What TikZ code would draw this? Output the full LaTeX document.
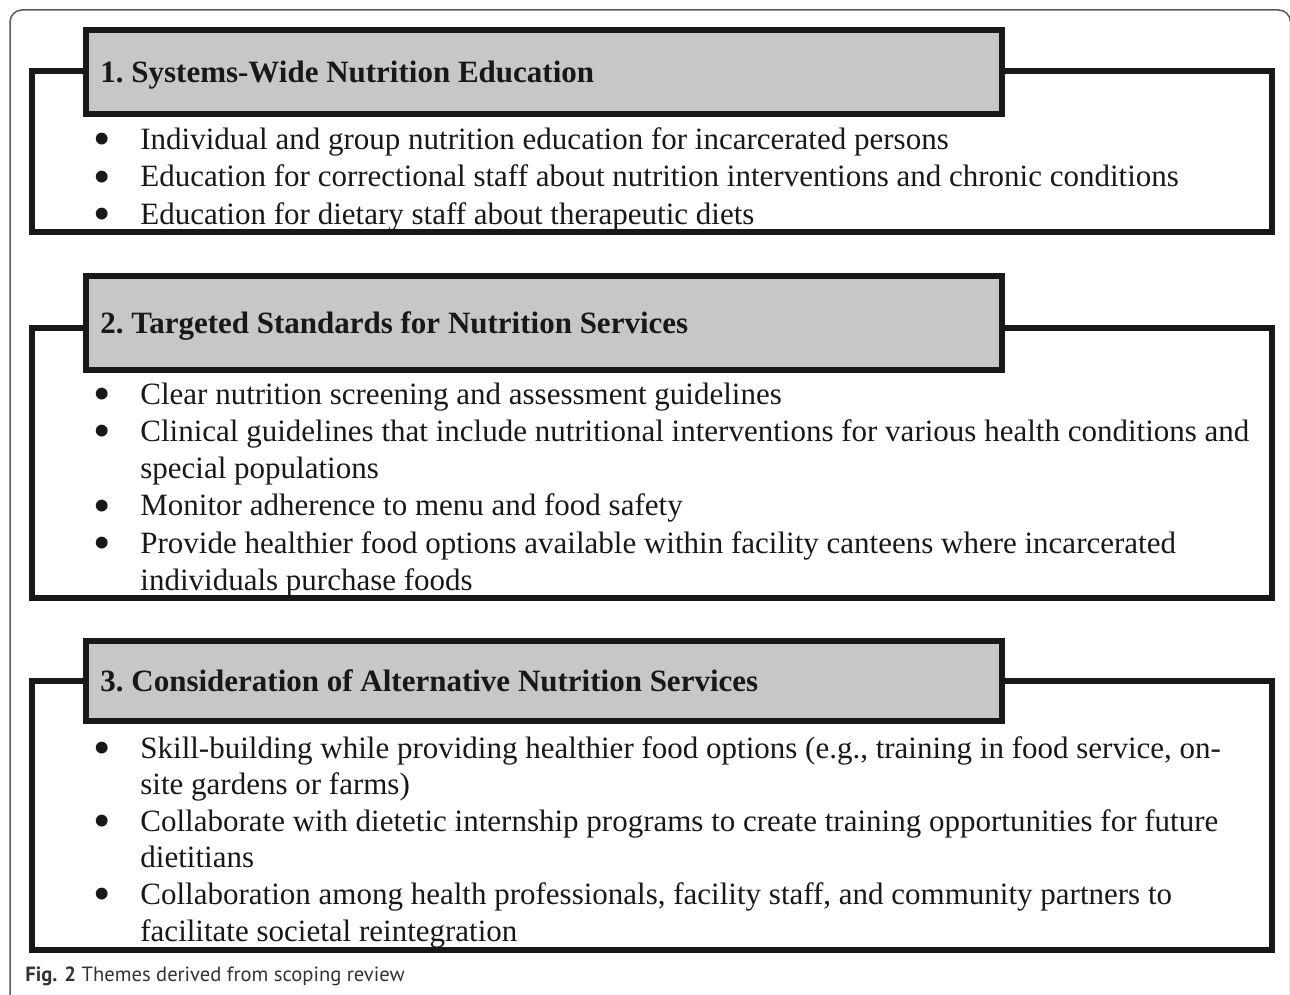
\documentclass[tikz,border=0pt]{standalone}
\usepackage{fontspec}
\setmainfont{Liberation Serif}
\newfontfamily\capfont{PT Sans}
\definecolor{headgray}{RGB}{198,199,198}
\definecolor{inkblack}{RGB}{24,24,24}
\definecolor{capgray}{RGB}{51,51,51}
\newcommand{\bigbul}{\raisebox{-.21em}{\scalebox{1.6}{\textbullet}}}
\begin{document}
\begin{tikzpicture}[x = .5pt, y = -.5pt,
		frame/.style = {draw = black!65, line width = .75pt, rounded corners = 6pt},
		outerbox/.style = {draw = inkblack, line width = 3pt},
		headbox/.style = {draw = inkblack, fill = headgray, line width = 3pt},
		headtext/.style = {anchor = base west, inner sep = 0pt, text = inkblack, font = \fontsize{15.5pt}{18pt}\selectfont\bfseries},
		items/.style = {anchor = base west, inner sep = 0pt, text = inkblack, font = \fontsize{15.5pt}{#1}\selectfont}]
	\useasboundingbox (0,0) rectangle (1290,995);
	\clip (0,0) rectangle (1290,995);
	\draw[frame] (10,1020) -- (10,10) -- (1290.5,10) -- (1290.5,1020); %page frame

	% theme 1
	\draw[outerbox] (32,71) rectangle (1271.5,232);
	\draw[headbox] (85.5,30.5) rectangle (1001.5,114.5);
	\node[headtext] (head1) at (100,83) {1.\ Systems-Wide Nutrition Education};
	\node[items = 18.75pt] (list1) at (93,149) {\begin{tabular}[t]{@{}p{23.5pt}@{}l@{}}
		\bigbul & Individual and group nutrition education for incarcerated persons\\
		\bigbul & Education for correctional staff about nutrition interventions and chronic conditions\\
		\bigbul & Education for dietary staff about therapeutic diets
		\end{tabular}};

	% theme 2
	\draw[outerbox] (32,328) rectangle (1271.5,598);
	\draw[headbox] (85.5,275.5) rectangle (1001.5,369.5);
	\node[headtext] (head2) at (100,333) {2.\ Targeted Standards for Nutrition Services};
	\node[items = 18.65pt] (list2) at (93,404) {\begin{tabular}[t]{@{}p{23.5pt}@{}l@{}}
		\bigbul & Clear nutrition screening and assessment guidelines\\
		\bigbul & Clinical guidelines that include nutritional interventions for various health conditions and\\
		& special populations\\
		\bigbul & Monitor adherence to menu and food safety\\
		\bigbul & Provide healthier food options available within facility canteens where incarcerated\\
		& individuals purchase foods
		\end{tabular}};

	% theme 3
	\draw[outerbox] (32,681) rectangle (1271.5,949.5);
	\draw[headbox] (85.5,640.5) rectangle (1001.5,721);
	\node[headtext] (head3) at (100,691.5) {3.\ Consideration of Alternative Nutrition Services};
	\node[items = 18.3pt] (list3) at (93,758) {\begin{tabular}[t]{@{}p{23.5pt}@{}l@{}}
		\bigbul & Skill-building while providing healthier food options (e.g., training in food service, on-\\
		& site gardens or farms)\\
		\bigbul & Collaborate with dietetic internship programs to create training opportunities for future\\
		& dietitians\\
		\bigbul & Collaboration among health professionals, facility staff, and community partners to\\
		& facilitate societal reintegration
		\end{tabular}};

	\node[anchor = base west, inner sep = 0pt, text = capgray, font = \capfont\fontsize{10.3pt}{12pt}\selectfont] (caption) at (25,981) {\textbf{Fig. 2} Themes derived from scoping review};
\end{tikzpicture}
\end{document}
